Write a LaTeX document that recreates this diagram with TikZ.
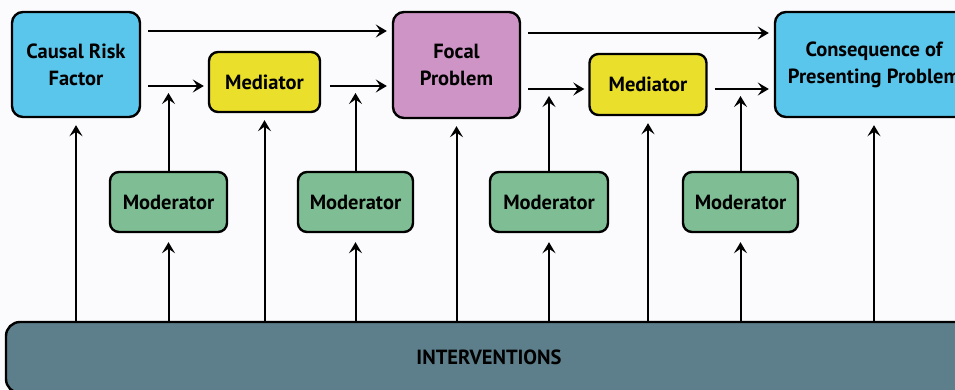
\documentclass[tikz,border=0pt]{standalone}
\usepackage{fontspec}
\setmainfont{PT Sans}
\usetikzlibrary{arrows.meta}
\definecolor{riskblue}{HTML}{5BC6EC}
\definecolor{medyellow}{HTML}{EAE02C}
\definecolor{focalpink}{HTML}{CF94C6}
\definecolor{modgreen}{HTML}{7FBE95}
\definecolor{intslate}{HTML}{5D7F8C}
\definecolor{paper}{HTML}{FBFBFD}
\tikzset{
  box/.style={draw=black, line width=2.4pt, rounded corners=11pt, align=center,
    inner sep=0pt, font=\fontsize{20.5}{27}\selectfont\bfseries},
  bigbox/.style={box, minimum height=105pt},
  smallbox/.style={box, minimum height=60pt, rounded corners=9pt},
  link/.style={line width=2pt, -{Stealth[length=11pt,width=13pt,inset=4.5pt]}},
}
\begin{document}
\begin{tikzpicture}[x=1pt,y=-1pt]
  \fill[paper] (0,0) rectangle (955,389);
  \useasboundingbox (0,0) rectangle (955,389);

  % main causal chain
  \node[bigbox, fill=riskblue, minimum width=128pt] (crf) at (76,64.5) {Causal Risk\\Factor};
  \node[smallbox, fill=medyellow, minimum width=111pt] (med1) at (264.5,82) {Mediator};
  \node[bigbox, fill=focalpink, minimum width=127pt, minimum height=106pt] (focal) at (456.5,65) {Focal\\Problem};
  \node[smallbox, fill=medyellow, minimum width=117pt, minimum height=61pt] (med2) at (648,84.5) {Mediator};
  \node[bigbox, fill=riskblue, minimum width=198pt] (cons) at (874,64.5) {Consequence of\\Presenting Problem};

  % moderators
  \node[smallbox, fill=modgreen, minimum width=117pt] (mod1) at (168.5,202) {Moderator};
  \node[smallbox, fill=modgreen, minimum width=115pt] (mod2) at (355.5,202) {Moderator};
  \node[smallbox, fill=modgreen, minimum width=118pt] (mod3) at (549,202) {Moderator};
  \node[smallbox, fill=modgreen, minimum width=115pt] (mod4) at (740.5,202) {Moderator};

  % interventions bar
  \node[box, fill=intslate, minimum width=966pt, minimum height=71pt, rounded corners=14pt] (int) at (489,357.5) {INTERVENTIONS};

  % direct paths
  \draw[link, shorten <=7pt, shorten >=5pt] (crf.east |- 0,31) -- (focal.west |- 0,31);
  \draw[link, shorten <=7pt, shorten >=5pt] (focal.east |- 0,33) -- (cons.west |- 0,33);

  % mediated paths
  \coordinate (j1) at (mod1.north |- 0,86);
  \coordinate (j2) at (mod2.north |- 0,86);
  \coordinate (j3) at (mod3.north |- 0,89);
  \coordinate (j4) at (mod4.north |- 0,89);
  \draw[link, shorten <=7pt, shorten >=4pt] (crf.east |- j1) -- (med1.west |- j1);
  \draw[link, shorten <=9pt, shorten >=5pt] (med1.east |- j2) -- (focal.west |- j2);
  \draw[link, shorten <=7pt, shorten >=4pt] (focal.east |- j3) -- (med2.west |- j3);
  \draw[link, shorten <=7pt, shorten >=5pt] (med2.east |- j4) -- (cons.west |- j4);

  % moderators act on the mediated paths
  \foreach \m/\j in {mod1/j1, mod2/j2, mod3/j3, mod4/j4}
    \draw[link, shorten >=7pt] (\m.north) -- (\j);

  % interventions act on every element
  \foreach \t in {crf, med1, focal, med2, cons}
    \draw[link, shorten >=7pt] (int.north -| \t.south) -- (\t.south);
  \foreach \t in {mod1, mod2, mod3, mod4}
    \draw[link, shorten >=9pt] (int.north -| \t.south) -- (\t.south);
\end{tikzpicture}
\end{document}
